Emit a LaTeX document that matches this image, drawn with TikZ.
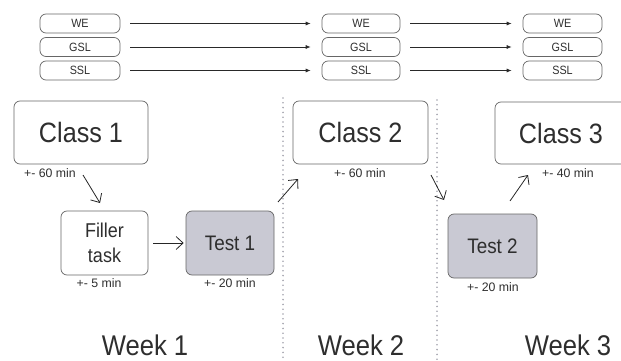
\documentclass[tikz,border=0pt]{standalone}
\usepackage{fontspec}
\setmainfont{Liberation Sans}[FakeStretch=0.9]
\newfontfamily\plainsans{Liberation Sans}
\usetikzlibrary{arrows.meta}
\definecolor{txt}{HTML}{2E2E2E}
\definecolor{edge}{HTML}{666666}
\definecolor{testfill}{HTML}{C9C9D3}
\definecolor{dotc}{HTML}{A4A4AE}
\tikzset{
  tag/.style={draw=edge, line width=0.7pt, rounded corners=6pt, minimum height=19pt, inner sep=0pt, text=txt, font=\fontsize{12}{12}\selectfont},
  bigbox/.style={draw=edge, line width=0.7pt, rounded corners=6pt, minimum height=63pt, minimum width=134pt, inner sep=0pt, text=txt, font=\fontsize{28}{28}\selectfont},
  midbox/.style={draw=edge, line width=0.7pt, rounded corners=6pt, minimum height=64pt, minimum width=88pt, inner sep=0pt, text=txt, align=center, font=\fontsize{20}{25}\selectfont},
  testbox/.style={midbox, fill=testfill, font=\fontsize{21}{25}\selectfont},
  dur/.style={text=txt, inner sep=0pt, font=\plainsans\fontsize{12.3}{12}\selectfont},
  week/.style={text=txt, inner sep=0pt, anchor=base, font=\fontsize{28.5}{29}\selectfont},
  flow/.style={draw=txt!90!black, line width=0.7pt, -{Latex[length=5pt,width=4pt]}},
  hand/.style={draw=black!85, line width=0.8pt, -{Straight Barb[length=7pt,width=13pt,line width=0.8pt]}},
  divider/.style={draw=dotc, line width=1.8pt, line cap=round, dash pattern=on 0pt off 4.8pt}
}
\begin{document}
\begin{tikzpicture}[x=1pt,y=-1pt]
\useasboundingbox (0,0) rectangle (621,361);
\clip (0,0) rectangle (621,361);
% top tags
\node[tag, minimum width=80pt] (we1) at (80,23.5) {WE};
\node[tag, minimum width=80pt] (gsl1) at (80,47) {GSL};
\node[tag, minimum width=80pt] (ssl1) at (80,70.5) {SSL};
\node[tag, minimum width=78pt] (we2) at (361,23.5) {WE};
\node[tag, minimum width=78pt] (gsl2) at (361,47) {GSL};
\node[tag, minimum width=78pt] (ssl2) at (361,70.5) {SSL};
\node[tag, minimum width=79pt] (we3) at (562.5,23.5) {WE};
\node[tag, minimum width=79pt] (gsl3) at (562.5,47) {GSL};
\node[tag, minimum width=79pt] (ssl3) at (562.5,70.5) {SSL};
\foreach \a/\b in {we1/we2,gsl1/gsl2,ssl1/ssl2,we2/we3,gsl2/gsl3,ssl2/ssl3}
  \draw[flow, shorten <=10pt, shorten >=11pt] (\a.east) -- (\b.west);
% dividers
\coordinate (d1t) at (283,98); \coordinate (d1b) at (283,361);
\coordinate (d2t) at (437,100); \coordinate (d2b) at (437,361);
\draw[divider] (d1t) -- (d1b);
\draw[divider] (d2t) -- (d2b);
% main boxes
\node[bigbox] (c1) at (81,132.5) {Class 1};
\node[bigbox, minimum width=135pt] (c2) at (360.5,132.5) {Class 2};
\node[bigbox, minimum width=132pt, minimum height=62pt] (c3) at (561,133) {Class 3};
\node[midbox, minimum width=87pt] (fill) at (104.5,243) {Filler\\task};
\node[testbox] (t1) at (230,243) {Test 1};
\node[testbox, minimum width=89pt] (t2) at (492.5,246) {Test 2};
% durations
\node[dur] (l1) at (50,173) {+- 60 min};
\node[dur] (l2) at (99,283) {+- 5 min};
\node[dur] (l3) at (230,283) {+- 20 min};
\node[dur] (l4) at (360,173) {+- 60 min};
\node[dur] (l5) at (493,287) {+- 20 min};
\node[dur] (l6) at (568,173) {+- 40 min};
% hand arrows
\coordinate (a1s) at (83,175); \coordinate (a1e) at (100,203);
\coordinate (a3s) at (278,202); \coordinate (a3e) at (298,179);
\coordinate (a4s) at (431,175); \coordinate (a4e) at (444,200);
\coordinate (a5s) at (510,201); \coordinate (a5e) at (528,175);
\draw[hand] (a1s) -- (a1e);
\draw[hand, shorten <=5pt, shorten >=2pt] (fill.east) -- (t1.west);
\draw[hand] (a3s) -- (a3e);
\draw[hand] (a4s) -- (a4e);
\draw[hand] (a5s) -- (a5e);
% weeks
\node[week] (w1) at (145,355) {Week 1};
\node[week] (w2) at (361,355) {Week 2};
\node[week] (w3) at (568,355) {Week 3};
\end{tikzpicture}
\end{document}
